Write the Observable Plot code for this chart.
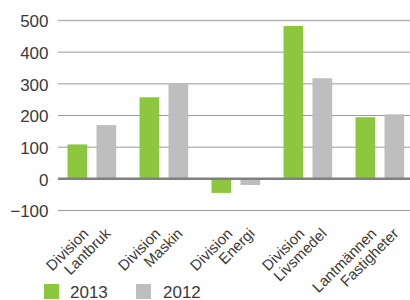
<!DOCTYPE html>
<html>
<head>
<meta charset="utf-8">
<script src="https://cdn.jsdelivr.net/npm/d3@7"></script>
<script src="https://cdn.jsdelivr.net/npm/@observablehq/plot@0.6"></script>
<style>
  html, body { margin: 0; padding: 0; background: #fff; }
  body { width: 410px; height: 300px; overflow: hidden; font-family: "Liberation Sans", Arial, sans-serif; color: #3a3a3a; }
  #chart svg { display: block; overflow: visible; }
  #legend { position: relative; height: 20px; width: 410px; }
  #legend .sw { position: absolute; top: 4px; width: 15px; height: 15px; }
  #legend .lb { position: absolute; top: 3.5px; font-size: 17px; line-height: 17px; color: #3a3a3a; }
</style>
</head>
<body>
<div id="chart"></div>
<div id="legend"></div>
<script>
// Categories (two text lines each)
const categories = ["Division Lantbruk", "Division Maskin", "Division Energi", "Division Livsmedel", "Lantmännen Fastigheter"];
const labelLine1 = ["Division", "Division", "Division", "Division", "Lantmännen"];
const labelLine2 = ["Lantbruk", "Maskin", "Energi", "Livsmedel", "Fastigheter"];
// Series values
const values2013 = [107, 256, -46, 481, 193];
const values2012 = [168, 301, -21, 316, 202];
const seriesNames = ["2013", "2012"];
const seriesColors = ["#8dc63f", "#bdbec0"];
// Y ticks
const yTicks = [-100, 0, 100, 200, 300, 400, 500];

const rows2013 = categories.map((c, i) => ({cat: c, v: values2013[i]}));
const rows2012 = categories.map((c, i) => ({cat: c, v: values2012[i]}));
const labels = categories.map((c, i) => ({cat: c, l1: labelLine1[i], l2: labelLine2[i]}));

const chart = Plot.plot({
  width: 410,
  height: 280,
  marginTop: 20,
  marginBottom: 70,
  marginLeft: 58,
  marginRight: 0,
  style: {fontFamily: "Liberation Sans, Arial, sans-serif", color: "#3a3a3a", background: "#fff"},
  x: {type: "band", domain: categories, range: [55.5, 417], padding: 0, axis: null},
  y: {domain: [-100, 500], axis: null},
  marks: [
    Plot.ruleY(yTicks.filter(t => t !== 0 && t !== 500), {stroke: "#9a9a9a", strokeWidth: 1}),
    Plot.ruleY([500], {stroke: "#b5b5b5", strokeWidth: 1.5}),
    Plot.barY(rows2013, {x: "cat", y: "v", fill: seriesColors[0], insetLeft: 11.5, insetRight: 40.8}),
    Plot.barY(rows2012, {x: "cat", y: "v", fill: seriesColors[1], insetLeft: 40.5, insetRight: 11.8}),
    Plot.ruleY([0], {stroke: "#808080", strokeWidth: 2.5}),
    Plot.axisY({ticks: yTicks, tickSize: 0, tickPadding: 10, fontSize: 17, label: null, dy: 1.5, fill: "#3a3a3a"}),
    Plot.text(labels, {x: "cat", text: "l1", frameAnchor: "bottom", textAnchor: "end", rotate: -45, fontSize: 15, dx: -3, dy: 24, fill: "#3a3a3a"}),
    Plot.text(labels, {x: "cat", text: "l2", frameAnchor: "bottom", textAnchor: "end", rotate: -45, fontSize: 15, dx: 19, dy: 24, fill: "#3a3a3a"})
  ]
});
document.getElementById("chart").appendChild(chart);

// Legend below the SVG
const legend = document.getElementById("legend");
const swX = [44, 136];
const lbX = [70, 163];
seriesNames.forEach((name, i) => {
  const sw = document.createElement("div");
  sw.className = "sw";
  sw.style.left = swX[i] + "px";
  sw.style.background = seriesColors[i];
  legend.appendChild(sw);
  const lb = document.createElement("div");
  lb.className = "lb";
  lb.style.left = lbX[i] + "px";
  lb.textContent = name;
  legend.appendChild(lb);
});
</script>
</body>
</html>
